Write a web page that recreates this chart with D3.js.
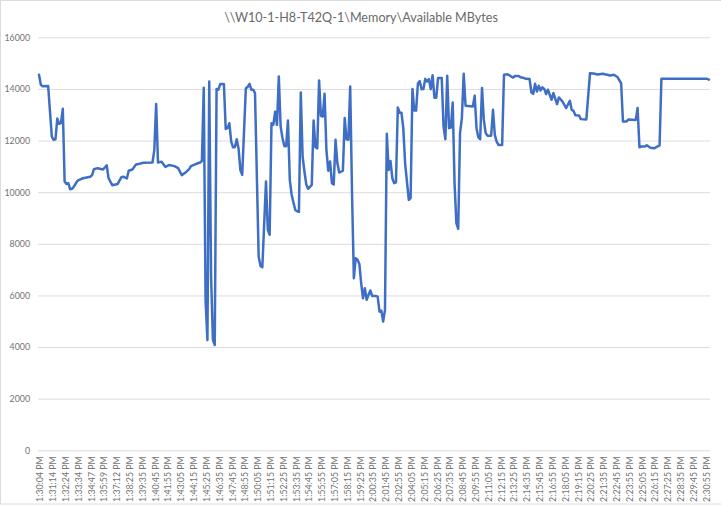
<!DOCTYPE html>
<html>
<head>
<meta charset="utf-8">
<script src="https://cdn.jsdelivr.net/npm/d3@7"></script>
<style>
  html, body { margin: 0; padding: 0; background: #fff; overflow: hidden; }
  svg { display: block; }
  text { font-family: Lato, "Open Sans", sans-serif; fill: #737373; }
</style>
</head>
<body>
<svg id="chart"></svg>
<script>
const chartTitle = "\\\\W10-1-H8-T42Q-1\\Memory\\Available MBytes";

// one tick label every 7 samples
const timeLabels = [
  "1:30:04 PM","1:31:14 PM","1:32:24 PM","1:33:34 PM","1:34:47 PM","1:35:59 PM","1:37:12 PM","1:38:25 PM",
  "1:39:35 PM","1:40:45 PM","1:41:55 PM","1:43:05 PM","1:44:15 PM","1:45:25 PM","1:46:35 PM","1:47:45 PM",
  "1:48:55 PM","1:50:05 PM","1:51:15 PM","1:52:25 PM","1:53:35 PM","1:54:45 PM","1:55:55 PM","1:57:05 PM",
  "1:58:15 PM","1:59:25 PM","2:00:35 PM","2:01:45 PM","2:02:55 PM","2:04:05 PM","2:05:15 PM","2:06:25 PM",
  "2:07:35 PM","2:08:45 PM","2:09:55 PM","2:11:05 PM","2:12:15 PM","2:13:25 PM","2:14:35 PM","2:15:45 PM",
  "2:16:55 PM","2:18:05 PM","2:19:15 PM","2:20:25 PM","2:21:35 PM","2:22:45 PM","2:23:55 PM","2:25:05 PM",
  "2:26:15 PM","2:27:25 PM","2:28:35 PM","2:29:45 PM","2:30:55 PM"
];
const samplesPerLabel = 7;
const lastSample = 366;

const yTicks = [0, 2000, 4000, 6000, 8000, 10000, 12000, 14000, 16000];

// sample number and MBytes, at the bends of the line
const sampleNo = [
  0,1,2,5,7,8,9,10,11,12,13,14,15,16,17,18,19,21,22,24,28,29,30,32,35,37,38,40,43,45,46,48,49,51,53,55,57,62,63,64,65,67,69,71,74,76,78,80,82,83,86,88,89,
  90,91,92,93,94,95,96,97,98,99,101,102,103,104,105,106,107,108,109,110,111,113,114,115,116,117,118,120,121,122,124,125,126,127,128,129,130,131,132,133,134,135,136,137,138,139,140,141,142,143,144,145,146,147,149,
  150,151,152,153,154,155,156,157,158,159,160,161,162,163,164,166,167,168,169,170,171,172,173,174,175,176,177,178,179,180,181,182,184,185,186,187,188,189,
  190,191,192,193,194,195,196,197,198,199,200,201,202,203,204,205,206,207,208,209,210,211,212,213,214,215,216,217,218,220,221,222,223,224,225,226,227,228,229,
  230,231,232,233,237,238,239,240,241,242,243,244,245,247,248,249,250,251,253,254,256,259,260,262,263,265,266,268,269,270,271,272,273,274,275,276,277,278,280,281,283,284,286,288,290,291,292,293,295,296,299,
  301,303,305,308,312,314,316,318,319,321,322,326,327,328,329,331,332,334,336,339,340,365,366
];
const availableMBytes = [
  14550,14160,14100,14110,12150,12030,12050,12850,12650,12680,13230,10410,10320,10350,10115,10130,10210,10440,10480,10540,10600,10660,10890,10930,10880,11040,10540,10270,10320,10580,10600,10530,10830,10880,11070,11100,11140,11150,11640,13420,11150,11180,10980,11050,11010,10930,10660,10760,10890,11010,11100,11150,11210,
  14050,5820,4270,14290,6730,4280,4080,14000,13970,14190,14190,12450,12480,12670,11960,11740,11740,12050,11700,10860,10670,14030,14080,14200,13970,13970,13840,7500,7140,7090,10410,8540,8350,12670,12610,13120,12600,14480,12540,12100,11790,11780,12780,10480,9900,9600,9310,9260,9240,13860,11380,10800,10300,10130,10280,
  12780,11740,11700,14330,12960,12930,13810,11640,10830,11190,10350,10300,12030,11120,10760,10830,12870,12050,12030,14090,9960,6670,7440,7380,7220,6470,5890,6280,5830,6020,6190,5980,5980,5950,5370,5410,4985,5440,
  12260,10860,11210,10540,10350,10380,13280,13080,13080,12480,11120,10410,9700,9770,14000,13160,13160,14220,14300,13990,14000,14390,14290,14380,13990,14530,13660,13660,14420,14420,12540,12050,14510,12480,12500,13470,10350,8800,8580,
  12290,12870,14590,13350,13320,13740,12480,12130,12050,14040,12800,12290,12190,12190,13190,12220,11960,11830,11830,14550,14570,14440,14500,14500,14450,14420,14390,14380,13860,13810,14200,13900,14120,13940,14060,14000,13800,13970,13580,13840,13410,13670,13510,13260,13540,13190,13150,12980,12970,12830,12820,
  14610,14600,14560,14590,14520,14550,14460,14220,12740,12740,12820,12800,13260,11740,11770,11770,11820,11720,11700,11810,14390,14390,14360
];

const width = 721, height = 505;
const plotLeft = 38, plotRight = 710, plotTop = 37.3, plotBottom = 450.3;

const svg = d3.select("#chart").attr("width", width).attr("height", height);

// frame of the chart area, its right side is cut off by the picture edge
svg.append("rect")
  .attr("x", 0.5).attr("y", 0.5)
  .attr("width", width + 5).attr("height", 503.5)
  .attr("fill", "#fff").attr("stroke", "#dcdcdc").attr("stroke-width", 1);

svg.append("text")
  .attr("x", 361).attr("y", 21.5)
  .attr("text-anchor", "middle")
  .attr("font-size", 12.6)
  .style("fill", "#6a6a6a")
  .text(chartTitle);

const x = d3.scaleLinear().domain([0, lastSample]).range([39, 709]);
const y = d3.scaleLinear().domain([0, 16000]).range([plotBottom, plotTop]);

// y axis, ticks double as gridlines
const yAxis = svg.append("g")
  .attr("transform", `translate(${plotLeft},0)`)
  .call(d3.axisLeft(y).tickValues(yTicks).tickFormat(d3.format("d")).tickSize(-(plotRight - plotLeft)).tickPadding(8));
yAxis.select(".domain").remove();
yAxis.selectAll(".tick line").attr("stroke", "#dcdcdc").attr("stroke-width", 1);
yAxis.selectAll(".tick text").attr("font-size", 8.8);

// x axis, rotated time labels
const tickSamples = timeLabels.map((d, i) => i * samplesPerLabel);
const xAxis = svg.append("g")
  .attr("transform", `translate(1,${plotBottom})`)
  .call(d3.axisBottom(x).tickValues(tickSamples).tickFormat((d, i) => timeLabels[i]).tickSize(0));
xAxis.select(".domain").remove();
xAxis.selectAll(".tick text")
  .attr("font-size", 8.8)
  .attr("text-anchor", "end")
  .attr("transform", "rotate(-90)")
  .attr("x", -6)
  .attr("y", 0)
  .attr("dy", "0.32em");

const line = d3.line()
  .x((d, i) => x(sampleNo[i]))
  .y(d => y(d));

svg.append("path")
  .datum(availableMBytes)
  .attr("fill", "none")
  .attr("stroke", "#3f6fc4")
  .attr("stroke-width", 2.5)
  .attr("stroke-linejoin", "round")
  .attr("stroke-linecap", "round")
  .attr("d", line);
</script>
</body>
</html>
